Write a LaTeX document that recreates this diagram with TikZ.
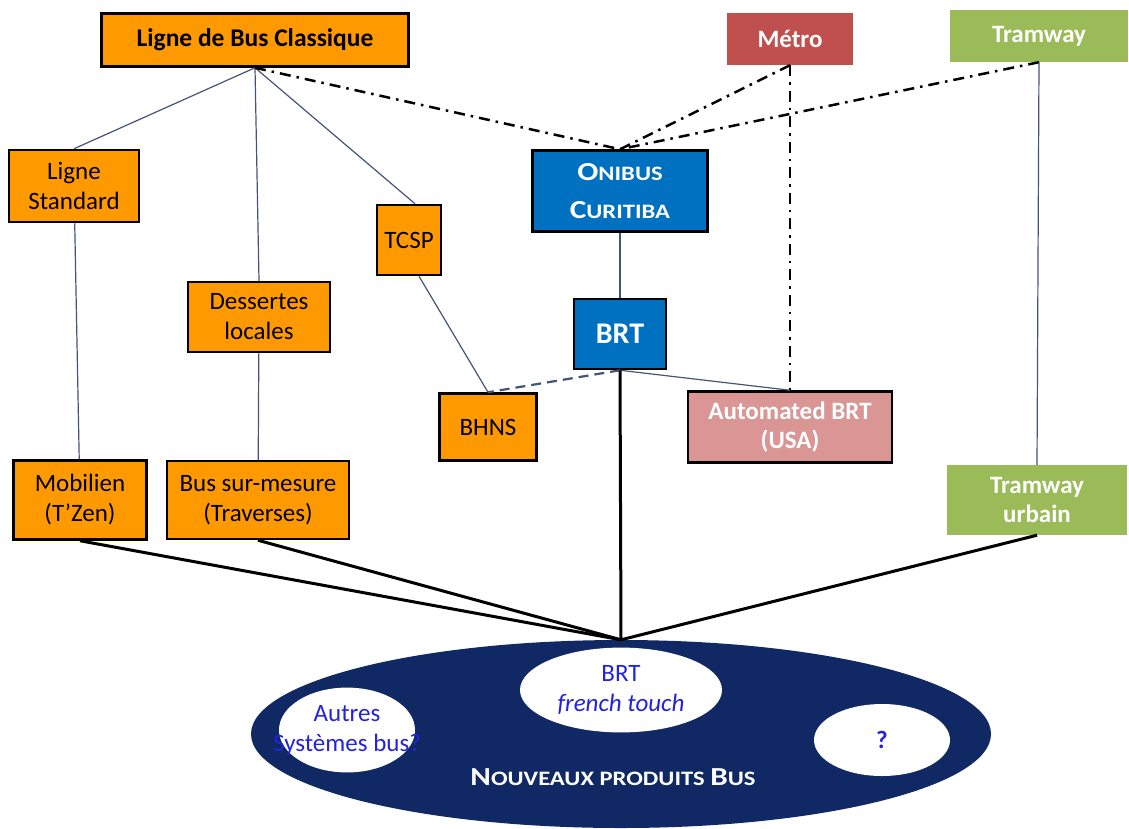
\documentclass[tikz,border=0pt]{standalone}
\usepackage{fontspec}
\setmainfont{Carlito}
\newfontfamily\scfont{Carlito}[FakeStretch=1.2]
\usetikzlibrary{shapes.geometric, positioning}

\definecolor{busorange}{RGB}{255,153,0}
\definecolor{brtblue}{RGB}{0,112,192}
\definecolor{metrored}{RGB}{192,80,77}
\definecolor{tramgreen}{RGB}{155,187,89}
\definecolor{autopink}{RGB}{217,150,148}
\definecolor{navy}{RGB}{16,40,100}
\definecolor{slate}{RGB}{68,84,120}
\definecolor{inkblue}{RGB}{35,35,220}

\newcommand{\fakesc}[2]{{\scfont\bfseries\fontsize{26}{38}\selectfont #1}{\scfont\bfseries\fontsize{20.5}{38}\selectfont #2}}

\begin{document}
\begin{tikzpicture}[x=1pt, y=-1pt, bus/.style={
        rectangle,
        draw=black,
        line width=2.5pt,
        fill=busorange,
        text=black,
        align=center,
        inner sep=0pt,
        font=\fontsize{25}{30}\selectfont
    }, brt/.style={
        bus,
        fill=brtblue,
        text=white,
        font=\bfseries\fontsize{30}{38}\selectfont
    }, mode/.style={
        rectangle,
        inner sep=0pt,
        align=center,
        text=white,
        font=\bfseries\fontsize{25}{29}\selectfont
    }, bulle/.style={
        ellipse,
        fill=white,
        inner sep=0pt,
        text=inkblue,
        font=\fontsize{25}{30}\selectfont
    }, link/.style={
        slate, line width=1.2pt
    }, dashlink/.style={
        slate, line width=2.2pt, dash pattern=on 10pt off 6pt
    }, dashdot/.style={
        black, line width=2.5pt, dash pattern=on 11pt off 6pt on 2.5pt off 6pt
    }, heavy/.style={
        black, line width=3pt
    }]
    \useasboundingbox (0,0) rectangle (1129,828);

    \node (lbc) [bus, minimum width=307pt, minimum height=53pt, font=\bfseries\fontsize{25.5}{30}\selectfont] at (255,40) {Ligne de Bus Classique};
    \node (metro) [mode, fill=metrored, minimum width=126pt, minimum height=52pt] at (790,39) {Métro};
    \node (tramway) [mode, fill=tramgreen, minimum width=178pt, minimum height=52pt] at (1039,36) {Tramway};
    \node (lstd) [bus, minimum width=130pt, minimum height=72pt] at (74,186) {Ligne\\Standard};
    \node (tcsp) [bus, minimum width=64pt, minimum height=70pt] at (409,240) {TCSP};
    \node (onibus) [brt, minimum width=175pt, minimum height=81pt] at (620,191) {\fakesc{O}{NIBUS}\\\fakesc{C}{URITIBA}};
    \node (dess) [bus, minimum width=142pt, minimum height=70pt] at (259,317) {Dessertes\\locales};
    \node (brtbox) [brt, minimum width=92pt, minimum height=70pt] at (620,334) {BRT};
    \node (bhns) [bus, minimum width=97pt, minimum height=67pt] at (488,427) {BHNS};
    \node (abrt) [bus, fill=autopink, text=white, font=\bfseries\fontsize{25}{29}\selectfont, minimum width=204pt, minimum height=71pt] at (790,427) {Automated BRT\\(USA)};
    \node (mobi) [bus, minimum width=133pt, minimum height=79pt] at (80,500) {Mobilien\\(T’Zen)};
    \node (surm) [bus, minimum width=182pt, minimum height=78pt] at (258,500) {Bus sur-mesure\\(Traverses)};
    \node (tramu) [mode, fill=tramgreen, minimum width=180pt, minimum height=70pt] at (1037,500) {Tramway\\urbain};

    \node (nouv) [ellipse, fill=navy, inner sep=0pt, minimum width=740pt, minimum height=188pt] at (621,734) {};
    \node (nouvtxt) [text=white, anchor=base] at (613,785) {\fakesc{N}{OUVEAUX PRODUITS }\fakesc{B}{US}};
    \node (french) [bulle, minimum width=202pt, minimum height=84pt] at (621,690) {\makebox[0pt]{\begin{tabular}{@{}c@{}}BRT\\\textit{french touch}\end{tabular}}};
    \node (autres) [bulle, minimum width=136pt, minimum height=80pt] at (347,730) {\makebox[0pt]{\begin{tabular}{@{}c@{}}Autres\\Systèmes bus?\end{tabular}}};
    \node (quest) [bulle, minimum width=136pt, minimum height=72pt, font=\bfseries\fontsize{25}{30}\selectfont] at (882,740) {?};

    \draw [link] (lbc.south) -- (lstd.north);
    \draw [link] (lbc.south) -- (dess.north);
    \draw [link] (lbc.south) -- ([xshift=6pt]tcsp.north);
    \draw [dashdot] (lbc.south) -- (onibus.north);
    \draw [dashdot] (metro.south) -- (onibus.north);
    \draw [dashdot] (tramway.south) -- (onibus.north);
    \draw [dashdot] (metro.south) -- (abrt.north);
    \draw [link] (tramway.south) -- (tramu.north);
    \draw [link] (onibus) -- (brtbox);
    \draw [link] (lstd) -- (mobi);
    \draw [link] (dess) -- (surm);
    \draw [link] ([xshift=10pt]tcsp.south) -- (bhns.north);
    \draw [dashlink] (brtbox.south) -- (bhns.north);
    \draw [link] (brtbox.south) -- (abrt.north);
    \draw [heavy] (brtbox.south) -- (nouv.north);
    \draw [heavy] (mobi.south) -- (nouv.north);
    \draw [heavy] (surm.south) -- (nouv.north);
    \draw [heavy] (tramu.south) -- (nouv.north);

\end{tikzpicture}
\end{document}
